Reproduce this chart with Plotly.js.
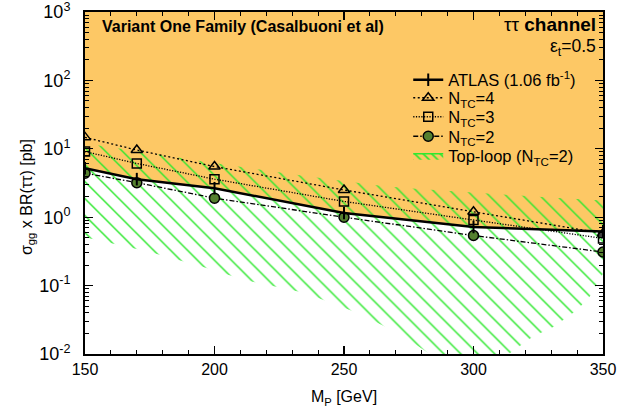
<!DOCTYPE html>
<html>
<head>
<meta charset="utf-8">
<script src="https://cdn.plot.ly/plotly-3.0.1.min.js"></script>
<style>html,body{margin:0;padding:0;background:#fff;}#chart{width:633px;height:415px;}</style>
</head>
<body>
<div id="chart"></div>
<script>
// ---- data ----
const massPoints = [150, 170, 200, 250, 300, 350];
const atlasLimit = [5.2, 3.6, 2.65, 1.15, 0.72, 0.62];
const ntc4 = [14.7, 9.6, 5.5, 2.5, 1.2, 0.58];
const ntc3 = [9.1, 6.1, 3.6, 1.7, 0.91, 0.49];
const ntc2 = [4.4, 3.2, 1.9, 1.0, 0.54, 0.31];

const topMass  = [150, 160, 175, 195, 212, 235, 255, 265, 275, 285, 298, 310, 323, 331, 340, 345, 350];
const topUpper = [12, 10.6, 8.7, 6.6, 5.3, 4.0, 3.2, 2.85, 2.65, 2.5, 2.3, 2.15, 2.0, 1.92, 1.85, 1.8, 1.75];
const topLower = [0.51, 0.42, 0.31, 0.19, 0.12, 0.078, 0.04, 0.026, 0.016, 0.009, 0.006, 0.008, 0.018, 0.025, 0.044, 0.07, 0.15];

const yTicks = [0.01, 0.1, 1, 10, 100, 1000];
const yTickText = ['10<sup>-2</sup>', '10<sup>-1</sup>', '10<sup>0</sup>', '10<sup>1</sup>', '10<sup>2</sup>', '10<sup>3</sup>'];
const xTicks = [150, 200, 250, 300, 350];
const yTop = 1000;

// ---- styling ----
const FONT = 'Liberation Sans, Arial, Helvetica, sans-serif';
const ORANGE = '#fdc865';
const GREEN = '#2ee82e';

const excludedBase = {
  x: massPoints, y: atlasLimit, mode: 'lines', line: {width: 0, color: 'rgba(0,0,0,0)'},
  showlegend: false, hoverinfo: 'skip'
};
const excludedTop = {
  x: massPoints, y: massPoints.map(() => yTop), mode: 'lines', fill: 'tonexty', fillcolor: ORANGE,
  line: {width: 0, color: 'rgba(0,0,0,0)'}, showlegend: false, hoverinfo: 'skip'
};
const band = {
  x: topMass.concat(topMass.slice().reverse()),
  y: topUpper.concat(topLower.slice().reverse()),
  mode: 'lines', fill: 'toself', fillcolor: 'rgba(0,0,0,0)',
  fillpattern: {shape: '\\', fgcolor: GREEN, bgcolor: 'rgba(0,0,0,0)', size: 12, solidity: 0.12, fillmode: 'replace'},
  line: {width: 0, color: 'rgba(0,0,0,0)'}, showlegend: false, hoverinfo: 'skip'
};
const bandLegend = {
  x: [null], y: [null], mode: 'lines', fill: 'toself', fillcolor: 'rgba(0,0,0,0)',
  fillpattern: {shape: '\\', fgcolor: GREEN, bgcolor: 'rgba(0,0,0,0)', size: 6, solidity: 0.3, fillmode: 'replace'},
  line: {width: 1.5, color: GREEN}, name: 'Top-loop (N<sub>TC</sub>=2)', legend: 'legend5'
};
const tr2 = {
  x: massPoints, y: ntc2, mode: 'lines+markers', name: 'N<sub>TC</sub>=2', legend: 'legend4',
  line: {color: 'black', width: 1.3, dash: '5px,2px,1.5px,2px'},
  marker: {symbol: 'circle', size: 10, color: '#55802f', line: {color: 'black', width: 1.5}}
};
const tr3 = {
  x: massPoints, y: ntc3, mode: 'lines+markers', name: 'N<sub>TC</sub>=3', legend: 'legend3',
  line: {color: 'black', width: 1.3, dash: '1.2px,1.5px'},
  marker: {symbol: 'square-open', size: 9, color: 'black', line: {color: 'black', width: 1.5}}
};
const tr4 = {
  x: massPoints, y: ntc4, mode: 'lines+markers', name: 'N<sub>TC</sub>=4', legend: 'legend2',
  line: {color: 'black', width: 1.3, dash: '2px,2.5px'},
  marker: {symbol: 'triangle-up-open', size: 10, color: 'black', line: {color: 'black', width: 1.5}}
};
const atlas = {
  x: massPoints, y: atlasLimit, mode: 'lines+markers', name: 'ATLAS (1.06 fb<sup>-1</sup>)', legend: 'legend',
  line: {color: 'black', width: 2.5},
  marker: {symbol: 'line-ns', size: 9, color: 'black', line: {color: 'black', width: 2}}
};

function legendAt(yc) {
  return {
    x: 0.624, xanchor: 'left', y: (354 - yc) / 342, yanchor: 'middle',
    bgcolor: 'rgba(0,0,0,0)', borderwidth: 0,
    font: {family: FONT, size: 16.5, color: 'black'}, itemwidth: 30
  };
}

const layout = {
  width: 633, height: 415,
  margin: {l: 85, r: 30, t: 12, b: 61},
  paper_bgcolor: 'white', plot_bgcolor: 'white',
  font: {family: FONT, color: 'black'},
  showlegend: true,
  legend: legendAt(80),
  legend2: legendAt(98),
  legend3: legendAt(117),
  legend4: legendAt(136.5),
  legend5: legendAt(156),
  xaxis: {
    range: [150, 350], tickvals: xTicks, ticks: 'inside', ticklen: 8, tickwidth: 1.2, tickcolor: 'black',
    minor: {dtick: 10, ticks: 'inside', ticklen: 4, tickcolor: 'black', tickwidth: 1},
    showline: true, linewidth: 2, linecolor: 'black', mirror: 'allticks', showgrid: false, zeroline: false,
    tickfont: {family: FONT, size: 16, color: 'black'},
    title: {text: 'M<sub>P</sub> [GeV]', font: {family: FONT, size: 16, color: 'black'}, standoff: 14}
  },
  yaxis: {
    type: 'log', range: [-2, 3], tickvals: yTicks, ticktext: yTickText,
    ticks: 'inside', ticklen: 8, tickwidth: 1.2, tickcolor: 'black', ticklabelstandoff: 9,
    ticklabeloverflow: 'allow',
    minor: {dtick: 'D1', ticks: 'inside', ticklen: 4, tickcolor: 'black', tickwidth: 1},
    showline: true, linewidth: 2, linecolor: 'black', mirror: 'allticks', showgrid: false, zeroline: false,
    tickfont: {family: FONT, size: 18, color: 'black'}
  },
  annotations: [
    {xref: 'paper', yref: 'paper', x: (27 - 85) / 518, y: (354 - 197) / 342, xanchor: 'center', yanchor: 'middle',
     textangle: -90, text: '\u03c3<sub>gg</sub> x BR(\u03c4\u03c4) [pb]', showarrow: false,
     font: {family: FONT, size: 16, color: 'black'}},
    {xref: 'paper', yref: 'paper', x: (100 - 85) / 518, y: (354 - 26) / 342, xanchor: 'left', yanchor: 'middle',
     text: '<b>Variant One Family (Casalbuoni et al)</b>', showarrow: false, font: {family: FONT, size: 16, color: 'black'}},
    {xref: 'paper', yref: 'paper', x: (598 - 85) / 518, y: (354 - 25) / 342, xanchor: 'right', yanchor: 'middle',
     text: '\u03c4\u03c4 <b>channel</b>', showarrow: false, font: {family: FONT, size: 19, color: 'black'}},
    {xref: 'paper', yref: 'paper', x: (598 - 85) / 518, y: (354 - 47) / 342, xanchor: 'right', yanchor: 'middle',
     text: '\u03b5<sub>t</sub>=0.5', showarrow: false, font: {family: FONT, size: 17.5, color: 'black'}}
  ]
};

Plotly.newPlot('chart', [excludedBase, excludedTop, band, bandLegend, tr2, tr3, tr4, atlas], layout, {displayModeBar: false, staticPlot: true});
</script>
</body>
</html>
